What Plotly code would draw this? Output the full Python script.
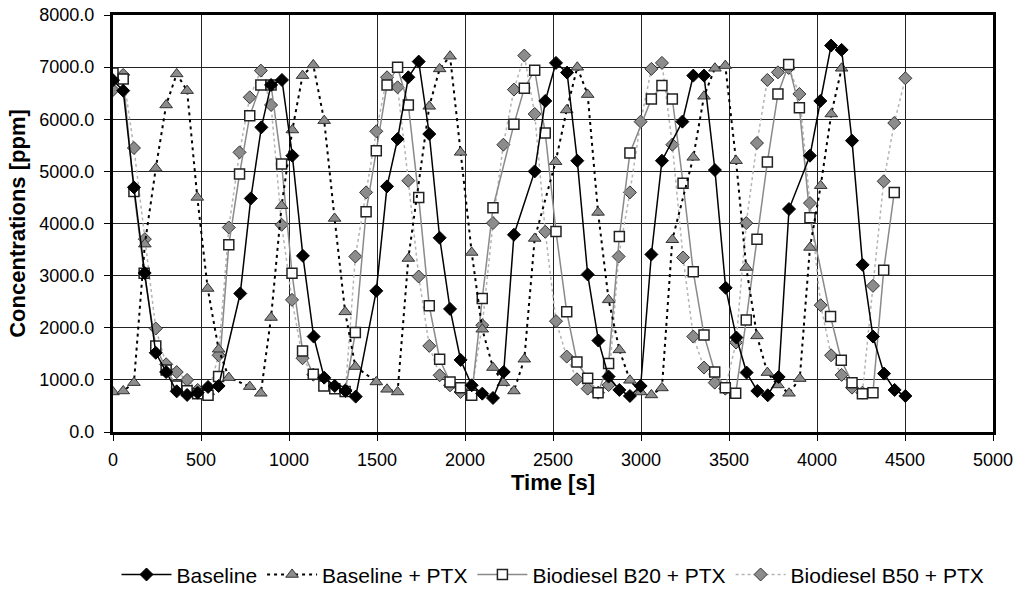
import plotly.graph_objects as go

# ---------------- data ----------------
base_t = [0, 58, 119, 180, 243, 302, 362, 421, 481, 540, 600, 723, 783, 843, 898, 960,
          1019, 1079, 1140, 1200, 1260, 1321, 1379, 1496, 1557, 1617, 1678, 1737, 1797,
          1856, 1915, 1975, 2038, 2098, 2159, 2220, 2278, 2396, 2456, 2517, 2580, 2638,
          2697, 2758, 2816, 2877, 2937, 2998, 3059, 3119, 3235, 3297, 3358, 3420, 3481,
          3542, 3600, 3661, 3720, 3782, 3841, 3960, 4019, 4080, 4140, 4199, 4259, 4318,
          4381, 4441, 4502]
base_v = [6750, 6549, 4693, 3050, 1520, 1150, 780, 711, 755, 864, 883, 2657, 4481, 5845,
          6658, 6754, 5301, 3380, 1831, 1043, 883, 787, 679, 2708, 4712, 5621, 6805, 7106,
          5717, 3726, 2362, 1383, 896, 736, 653, 1152, 3784, 5000, 6351, 7081, 6895, 5205,
          3022, 1754, 1063, 807, 691, 883, 3406, 5205, 5954, 6837, 6837, 5026, 2766, 1812,
          1140, 787, 704, 1056, 4277, 5301, 6351, 7414, 7330, 5589, 3207, 1831, 1120, 807,
          691]

ptx_t = [0, 58, 119, 181, 243, 302, 362, 421, 479, 538, 600, 658, 777, 840, 898, 958,
         1019, 1077, 1138, 1200, 1259, 1319, 1377, 1496, 1557, 1617, 1678, 1797, 1856,
         1915, 1975, 2038, 2098, 2159, 2218, 2278, 2337, 2396, 2515, 2578, 2638, 2697,
         2756, 2816, 2877, 2937, 2998, 3059, 3119, 3178, 3297, 3358, 3420, 3479, 3540,
         3598, 3659, 3718, 3778, 3841, 3902, 3960, 4021, 4081, 4140]
ptx_v = [768, 787, 947, 3604, 5058, 6274, 6870, 6549, 4501, 2753, 1588, 1044, 871, 743,
         2196, 4341, 5794, 6837, 7042, 5973, 4097, 2305, 1255, 960, 819, 768, 3329, 6248,
         6966, 7209, 5365, 3444, 1972, 1236, 947, 787, 1396, 3713, 5186, 6178, 6997, 6473,
         4213, 2535, 1575, 992, 768, 711, 845, 3688, 5269, 6441, 6978, 7029, 5205, 3156,
         1844, 1140, 903, 743, 1024, 3540, 4725, 6101, 6978]

b20_t = [0, 58, 119, 177, 243, 302, 362, 421, 481, 540, 600, 658, 719, 777, 840, 898,
         958, 1017, 1077, 1138, 1198, 1260, 1319, 1377, 1438, 1496, 1557, 1617, 1678,
         1737, 1797, 1856, 1915, 1975, 2038, 2098, 2159, 2278, 2337, 2396, 2456, 2517,
         2578, 2636, 2697, 2756, 2816, 2877, 2937, 3059, 3119, 3178, 3239, 3297, 3358,
         3419, 3479, 3538, 3598, 3659, 3718, 3778, 3839, 3900, 3960, 4077, 4138, 4199,
         4258, 4318, 4379, 4439]
b20_v = [6888, 6773, 4616, 3047, 1652, 1191, 883, 790, 736, 704, 1063, 3592, 4949, 6069,
         6658, 6658, 5141, 3047, 1556, 1108, 883, 830, 775, 1908, 4225, 5397, 6658, 6997,
         6274, 4501, 2420, 1396, 960, 851, 704, 2561, 4302, 5902, 6594, 6940, 5736, 3848,
         2305, 1345, 1031, 755, 1312, 3752, 5352, 6389, 6646, 6389, 4770, 3073, 1863, 1152,
         850, 743, 2151, 3700, 5179, 6485, 7049, 6223, 4110, 2215, 1376, 947, 736, 755,
         3105, 4597]

b50_t = [0, 58, 119, 181, 243, 302, 362, 421, 481, 540, 600, 658, 719, 777, 840, 898,
         958, 1017, 1077, 1138, 1198, 1260, 1321, 1377, 1438, 1496, 1557, 1617, 1678,
         1737, 1797, 1856, 1915, 1975, 2038, 2098, 2159, 2218, 2278, 2337, 2396, 2456,
         2517, 2578, 2636, 2697, 2756, 2816, 2873, 2937, 2998, 3059, 3119, 3178, 3239,
         3297, 3358, 3419, 3479, 3540, 3598, 3659, 3718, 3778, 3839, 3900, 3960, 4021,
         4080, 4140, 4199, 4258, 4318, 4379, 4439, 4502]
b50_v = [6562, 6850, 5448, 3700, 1985, 1300, 1150, 999, 807, 723, 1472, 3924, 5365, 6421,
         6933, 6274, 3976, 2535, 1415, 1100, 1024, 871, 807, 3367, 4597, 5768, 6805, 6613,
         4821, 2983, 1652, 1088, 896, 768, 800, 2049, 4008, 5512, 6569, 7222, 6101, 3841,
         2126, 1447, 1012, 832, 755, 900, 3367, 4597, 5954, 6966, 7081, 5512, 3348, 1831,
         1236, 947, 832, 1716, 4008, 5544, 6754, 6900, 6985, 6485, 4392, 2433, 1472, 1095,
         851, 755, 2804, 4809, 5928, 6786]

x_ticks = [0, 500, 1000, 1500, 2000, 2500, 3000, 3500, 4000, 4500, 5000]
y_ticks = [0, 1000, 2000, 3000, 4000, 5000, 6000, 7000, 8000]

names = ["Baseline", "Baseline + PTX", "Biodiesel B20 + PTX", "Biodiesel B50 + PTX"]

FONT = "Liberation Sans, Arial, sans-serif"

fig = go.Figure()

fig.add_trace(go.Scatter(
    x=b50_t, y=b50_v, name=names[3], mode="lines+markers",
    line=dict(color="#b4b4b4", width=1.5, dash="dot"),
    marker=dict(symbol="diamond", size=10, color="#8c8c8c",
                line=dict(color="#333333", width=1))))
fig.add_trace(go.Scatter(
    x=b20_t, y=b20_v, name=names[2], mode="lines+markers",
    line=dict(color="#8a8a8a", width=1.5),
    marker=dict(symbol="square", size=10, color="white",
                line=dict(color="#222222", width=1.5))))
fig.add_trace(go.Scatter(
    x=ptx_t, y=ptx_v, name=names[1], mode="lines+markers",
    line=dict(color="black", width=2, dash="3px,4px"),
    marker=dict(symbol="triangle-up", size=11, color="#8c8c8c",
                line=dict(color="#333333", width=1))))
fig.add_trace(go.Scatter(
    x=base_t, y=base_v, name=names[0], mode="lines+markers",
    line=dict(color="black", width=1.5),
    marker=dict(symbol="diamond", size=10, color="black",
                line=dict(color="black", width=1))))

fig.update_layout(
    width=1019, height=592,
    margin=dict(l=113, r=26, t=15, b=160),
    paper_bgcolor="white", plot_bgcolor="white",
    font=dict(family=FONT, size=18, color="black"),
    showlegend=True,
    legend=dict(orientation="h", x=0.5, xanchor="center",
                yref="container", y=0.029, yanchor="middle",
                traceorder="reversed", font=dict(size=21, family=FONT),
                itemwidth=50, bgcolor="rgba(0,0,0,0)"),
    xaxis=dict(range=[0, 5000], tickvals=x_ticks, ticktext=[str(v) for v in x_ticks],
               showgrid=True, gridcolor="#222222", gridwidth=1,
               showline=True, linecolor="black", linewidth=3, mirror=True,
               ticks="outside", ticklen=6, tickcolor="black", zeroline=False,
               automargin=False, ticklabelstandoff=3,
               title=dict(text="<b>Time [s]</b>", font=dict(size=22), standoff=0)),
    yaxis=dict(range=[0, 8000], tickvals=y_ticks, ticktext=["%.1f" % v for v in y_ticks],
               showgrid=True, gridcolor="#222222", gridwidth=1,
               showline=True, linecolor="black", linewidth=3, mirror=True,
               ticks="outside", ticklen=6, tickcolor="black", zeroline=False,
               automargin=False, ticklabelstandoff=6,
               title=dict(text="<b>Concentrations [ppm]</b>", font=dict(size=22), standoff=8)),
)

fig.write_html("out.html", config={"displayModeBar": False},
               post_script="document.body.style.margin='0px';"
                           "document.body.style.overflow='hidden';")
